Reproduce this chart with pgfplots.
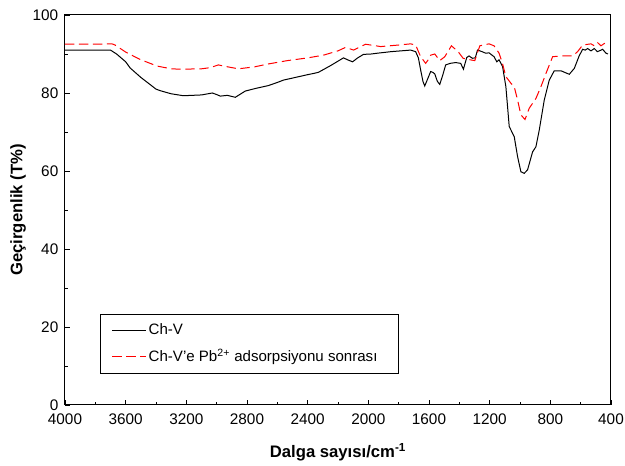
\documentclass[border=0pt]{standalone}
\usepackage{pgfplots}
\pgfplotsset{compat=1.18}
\usepackage{fontspec}
\setmainfont{Liberation Sans}
\begin{document}
\begin{tikzpicture}
\begin{axis}[
  name=ax,
  scale only axis,
  width=409.5pt, height=292.5pt,
  x dir=reverse,
  xmin=400, xmax=4000, ymin=0, ymax=100,
  xtick={400,800,...,4000}, ytick={0,20,...,100},
  minor x tick num=1, minor y tick num=1,
  tick align=inside,
  xtick pos=bottom, ytick pos=left,
  major tick length=4pt, minor tick length=2.5pt,
  tick style={black, line width=0.6pt},
  axis line style={line width=0.75pt},
  /pgf/number format/assume math mode=true,
  /pgf/number format/set thousands separator={},
  tick label style={font=\fontsize{11.5}{13}\selectfont},
  xticklabel style={yshift=-3.25pt},
  yticklabel style={xshift=-1.5pt},
  xlabel={\textbf{Dalga sayısı/cm\textsuperscript{-1}}},
  ylabel={\textbf{Geçirgenlik (T\%)}},
  label style={font=\fontsize{12.5}{14}\selectfont},
  xlabel style={at={(axis description cs:0.5,0)}, anchor=center, yshift=-35.5pt},
  ylabel style={at={(axis description cs:0,0.5)}, anchor=center, yshift=35.25pt},
  legend style={at={(axis description cs:0.0641,0.0795)}, anchor=south west, draw=black, line width=0.6pt,
    font=\fontsize{11.3}{13}\selectfont, inner xsep=8.5pt, inner ysep=5.5pt, row sep=5pt},
  legend cell align=left,
  legend image code/.code={\draw[#1] (0pt,0pt) -- (25pt,0pt);},
]
\addplot[black, line width=0.75pt] coordinates {
(4000,91.0)(3900,91.0)(3800,91.0)(3700,91.0)(3660,90.0)(3600,88.0)(3570,86.4)(3500,84.0)(3450,82.5)(3400,81.0)(3373,80.6)(3300,79.8)(3220,79.3)(3100,79.5)(3029,80.0)(3000,79.6)(2976,79.2)(2930,79.4)(2877,78.9)(2840,79.8)(2811,80.5)(2740,81.2)(2659,81.9)(2600,82.7)(2560,83.3)(2480,84.0)(2400,84.7)(2362,85.0)(2329,85.3)(2250,87.0)(2164,89.0)(2130,88.4)(2104,88.0)(2070,89.0)(2032,89.9)(1980,90.0)(1941,90.2)(1850,90.6)(1721,91.0)(1688,90.6)(1670,89.0)(1655,85.9)(1640,83.0)(1628,81.8)(1610,83.5)(1589,85.5)(1575,85.3)(1562,84.9)(1545,83.0)(1529,82.2)(1510,84.5)(1490,87.2)(1460,87.6)(1424,87.8)(1391,87.6)(1373,86.1)(1351,89.1)(1336,89.5)(1314,88.9)(1295,89.0)(1280,91.0)(1250,90.6)(1226,90.2)(1204,90.3)(1171,89.3)(1153,88.0)(1138,88.5)(1115,86.8)(1093,81.6)(1071,71.4)(1038,68.8)(1016,63.7)(994,59.8)(972,59.4)(950,60.3)(917,64.9)(895,66.2)(873,70.5)(840,78.2)(807,83.3)(774,85.7)(730,85.7)(700,85.2)(675,84.8)(642,86.3)(610,89.5)(587,91.2)(570,91.0)(554,91.4)(532,90.8)(510,91.4)(490,90.6)(477,90.8)(455,91.2)(433,90.2)(420,90.0)
};
\addlegendentry{Ch-V}
\addplot[red, line width=0.75pt, dash pattern=on 7pt off 3.5pt] coordinates {
(4000,92.5)(3800,92.5)(3690,92.6)(3670,92.3)(3600,90.5)(3505,88.6)(3392,86.9)(3300,86.2)(3240,86.1)(3100,86.2)(3042,86.5)(2989,87.2)(2940,86.8)(2857,86.2)(2750,86.7)(2666,87.4)(2534,88.3)(2400,89.0)(2296,89.7)(2200,90.8)(2150,91.7)(2120,91.3)(2097,91.0)(2050,91.9)(2018,92.5)(1950,92.1)(1919,91.9)(1800,92.3)(1721,92.6)(1688,92.3)(1655,89.3)(1622,87.6)(1600,88.8)(1589,89.7)(1562,90.0)(1529,88.3)(1496,89.3)(1452,92.1)(1408,90.6)(1375,88.9)(1342,88.6)(1298,88.3)(1265,92.1)(1204,92.6)(1171,92.1)(1138,90.2)(1115,87.5)(1093,84.2)(1060,82.5)(1038,81.6)(1016,78.2)(994,74.4)(967,73.2)(939,76.1)(895,78.6)(862,81.6)(829,85.0)(785,89.3)(730,89.5)(653,89.5)(620,90.6)(587,92.3)(532,92.6)(510,92.1)(488,92.9)(466,92.1)(444,92.7)(420,92.0)
};
\addlegendentry{Ch-V'e Pb\textsuperscript{2+} adsorpsiyonu sonrası\hspace*{5pt}}
\end{axis}
\pgfresetboundingbox
\path ([xshift=-48.75pt, yshift=-45.75pt]ax.south west) rectangle ([xshift=10.5pt, yshift=11.25pt]ax.north east);
\end{tikzpicture}
\end{document}
